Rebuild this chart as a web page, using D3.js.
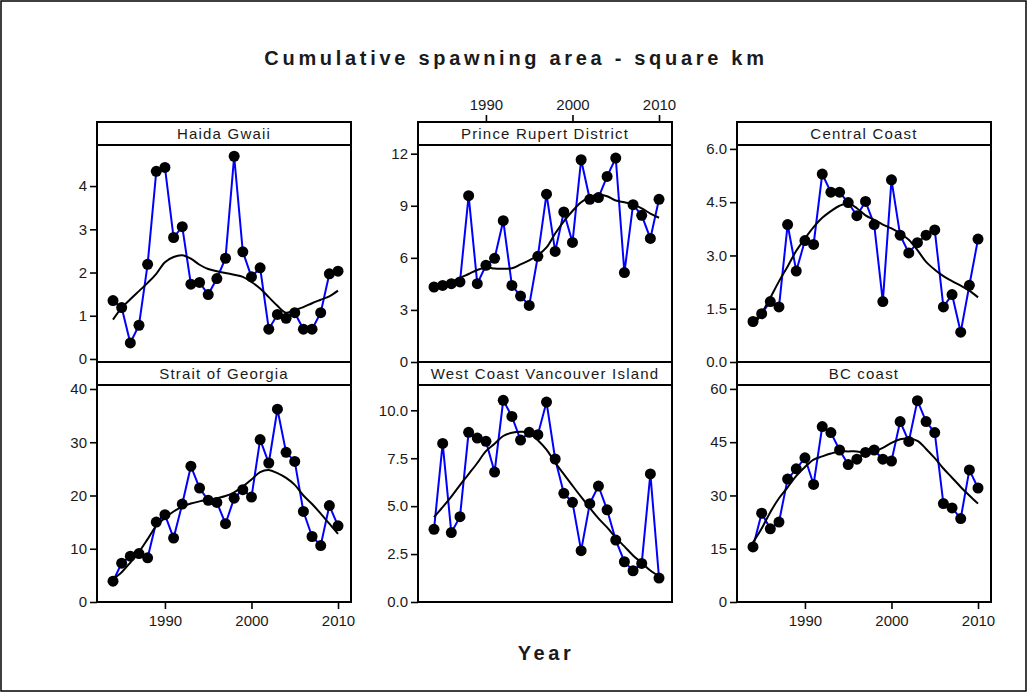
<!DOCTYPE html>
<html>
<head>
<meta charset="utf-8">
<script src="https://cdn.jsdelivr.net/npm/d3@7/dist/d3.min.js"></script>
<style>
  html, body { margin: 0; padding: 0; background: #fff; }
  svg { display: block; }
  text { font-family: "Liberation Sans", Arial, sans-serif; fill: #1a1a1a; }
</style>
</head>
<body>
<svg id="chart" width="1028" height="693"></svg>
<script>
// Survey years
const years = d3.range(1984, 2011);

// Cumulative spawning area (km²) by region, 1984–2010
const haidaGwaii = [1.35, 1.19, 0.37, 0.78, 2.19, 4.34, 4.43, 2.81, 3.06, 1.73, 1.77, 1.49, 1.86, 2.33, 4.69, 2.48, 1.90, 2.11, 0.69, 1.03, 0.94, 1.07, 0.69, 0.69, 1.07, 1.97, 2.03];
const princeRupert = [4.32, 4.41, 4.51, 4.61, 9.58, 4.51, 5.57, 5.97, 8.14, 4.41, 3.80, 3.26, 6.09, 9.67, 6.37, 8.64, 6.89, 11.65, 9.37, 9.47, 10.69, 11.75, 5.15, 9.06, 8.45, 7.12, 9.37];
const centralCoast = [1.14, 1.36, 1.70, 1.55, 3.87, 2.56, 3.42, 3.31, 5.29, 4.78, 4.78, 4.49, 4.12, 4.52, 3.87, 1.70, 5.13, 3.57, 3.07, 3.36, 3.57, 3.72, 1.55, 1.90, 0.84, 2.16, 3.46];
const straitOfGeorgia = [3.9, 7.3, 8.6, 9.1, 8.3, 15.0, 16.4, 12.0, 18.4, 25.5, 21.4, 19.1, 18.7, 14.7, 19.5, 21.1, 19.7, 30.5, 26.1, 36.2, 28.1, 26.4, 17.0, 12.3, 10.6, 18.1, 14.3];
const westCoastVI = [3.79, 8.27, 3.62, 4.45, 8.85, 8.55, 8.38, 6.78, 10.52, 9.68, 8.45, 8.85, 8.73, 10.43, 7.46, 5.67, 5.20, 2.68, 5.13, 6.05, 4.81, 3.23, 2.10, 1.63, 2.01, 6.68, 1.25];
const bcCoast = [15.5, 25.0, 20.6, 22.5, 34.6, 37.5, 40.6, 33.1, 49.4, 47.7, 42.8, 38.7, 40.2, 42.1, 42.8, 40.2, 39.7, 50.8, 45.2, 56.7, 50.8, 47.7, 27.7, 26.5, 23.5, 37.2, 32.1];

// Smoothed trend for each region, 1984–2010
const haidaGwaiiTrend = [0.91, 1.18, 1.38, 1.57, 1.76, 1.97, 2.24, 2.36, 2.40, 2.32, 2.18, 2.08, 2.03, 1.99, 1.95, 1.90, 1.78, 1.63, 1.43, 1.23, 1.07, 1.13, 1.20, 1.29, 1.37, 1.45, 1.58];
const princeRupertTrend = [4.30, 4.45, 4.60, 4.85, 5.07, 5.30, 5.45, 5.38, 5.37, 5.40, 5.62, 5.85, 6.15, 6.60, 7.40, 8.10, 8.70, 9.20, 9.50, 9.65, 9.55, 9.30, 9.20, 9.08, 8.85, 8.55, 8.31];
const centralCoastTrend = [1.00, 1.37, 1.81, 2.27, 2.69, 3.13, 3.48, 3.80, 4.06, 4.25, 4.40, 4.46, 4.33, 4.13, 4.00, 3.87, 3.76, 3.62, 3.44, 3.15, 2.82, 2.60, 2.42, 2.28, 2.15, 2.01, 1.82];
const straitOfGeorgiaTrend = [4.3, 5.6, 7.4, 9.4, 11.8, 14.3, 15.8, 17.0, 17.9, 18.5, 18.9, 19.2, 19.5, 19.9, 20.6, 21.7, 23.0, 24.4, 24.8, 24.2, 23.3, 22.0, 20.0, 18.4, 16.6, 14.7, 12.8];
const westCoastVITrend = [4.43, 4.95, 5.50, 6.10, 6.67, 7.25, 7.87, 8.25, 8.66, 8.83, 8.88, 8.83, 8.44, 7.95, 7.27, 6.67, 6.07, 5.48, 4.91, 4.36, 3.89, 3.36, 2.90, 2.43, 2.04, 1.64, 1.34];
const bcCoastTrend = [16.8, 20.7, 25.3, 29.2, 32.3, 35.5, 38.0, 40.1, 41.0, 41.8, 42.4, 42.4, 42.4, 41.9, 42.4, 43.4, 44.8, 45.8, 46.0, 45.4, 43.1, 40.5, 37.6, 35.0, 32.4, 30.0, 27.7];

// Panel titles and their y-axis ticks
const regionNames = ["Haida Gwaii", "Prince Rupert District", "Central Coast", "Strait of Georgia", "West Coast Vancouver Island", "BC coast"];
const yTickValues = [[0, 1, 2, 3, 4], [0, 3, 6, 9, 12], [0, 1.5, 3, 4.5, 6], [0, 10, 20, 30, 40], [0, 2.5, 5, 7.5, 10], [0, 15, 30, 45, 60]];
const yTickFormats = ["d", "d", ".1f", "d", ".1f", "d"];
const yDomains = [[-0.07, 4.95], [0, 12.5], [0, 6.11], [0, 40.75], [0, 11.32], [0, 61.1]];
const xTickValues = [1990, 2000, 2010];

const chartTitle = "Cumulative spawning area - square km";
const xTitle = "Year";

const seriesValues = [haidaGwaii, princeRupert, centralCoast, straitOfGeorgia, westCoastVI, bcCoast];
const trendValues = [haidaGwaiiTrend, princeRupertTrend, centralCoastTrend, straitOfGeorgiaTrend, westCoastVITrend, bcCoastTrend];

// ---- layout ----
const svg = d3.select("#chart");
const colX = [97, 418, 737];
const panelW = 254;
const stripH = 23;
const plotH = 217;
const rowTop = [122, 362];

// outer frame
svg.append("rect")
  .attr("x", 1).attr("y", 1).attr("width", 1025).attr("height", 690)
  .attr("fill", "none").attr("stroke", "#000").attr("stroke-width", 1.5);

svg.append("text")
  .attr("x", 516).attr("y", 65)
  .attr("text-anchor", "middle")
  .style("font-size", "20px").style("font-weight", "bold")
  .style("letter-spacing", "3.7px")
  .text(chartTitle);

svg.append("text")
  .attr("x", 546).attr("y", 660)
  .attr("text-anchor", "middle")
  .style("font-size", "20px").style("font-weight", "bold")
  .style("letter-spacing", "3.6px")
  .text(xTitle);

const styleAxis = (g) => {
  g.select(".domain").remove();
  g.selectAll(".tick line").attr("stroke", "#000").attr("stroke-width", 1.6);
  g.selectAll(".tick text")
    .style("font-family", "'Liberation Sans', Arial, sans-serif")
    .style("font-size", "15px").attr("fill", "#1a1a1a");
};

regionNames.forEach((name, i) => {
  const col = i % 3, row = Math.floor(i / 3);
  const x0 = colX[col];
  const stripTop = rowTop[row];
  const plotTop = stripTop + stripH;

  const x = d3.scaleLinear().domain([1982.15, 2011.5]).range([0, panelW]);
  const y = d3.scaleLinear().domain(yDomains[i]).range([plotH, 0]);

  const panel = svg.append("g").attr("transform", `translate(${x0},${plotTop})`);

  // y axis
  panel.append("g")
    .call(d3.axisLeft(y).tickValues(yTickValues[i]).tickFormat(d3.format(yTickFormats[i])).tickSize(7).tickPadding(3))
    .call(styleAxis);

  // x axis: bottom for the outer columns of the lower row, top for the middle column of the upper row
  if (row === 1 && col !== 1) {
    panel.append("g")
      .attr("transform", `translate(0,${plotH})`)
      .call(d3.axisBottom(x).tickValues(xTickValues).tickFormat(d3.format("d")).tickSize(7).tickPadding(6))
      .call(styleAxis);
  }
  if (row === 0 && col === 1) {
    panel.append("g")
      .attr("transform", `translate(0,${-stripH})`)
      .call(d3.axisTop(x).tickValues(xTickValues).tickFormat(d3.format("d")).tickSize(7).tickPadding(5))
      .call(styleAxis);
  }

  const pts = years.map((yr, k) => ({ yr, v: seriesValues[i][k], t: trendValues[i][k] }));

  // observed series
  panel.append("path")
    .datum(pts)
    .attr("fill", "none").attr("stroke", "#0000ff").attr("stroke-width", 2)
    .attr("d", d3.line().x(d => x(d.yr)).y(d => y(d.v)));

  // smoothed trend
  panel.append("path")
    .datum(pts)
    .attr("fill", "none").attr("stroke", "#000").attr("stroke-width", 2)
    .attr("d", d3.line().curve(d3.curveCatmullRom).x(d => x(d.yr)).y(d => y(d.t)));

  panel.selectAll("circle")
    .data(pts)
    .join("circle")
    .attr("cx", d => x(d.yr)).attr("cy", d => y(d.v))
    .attr("r", 5.5).attr("fill", "#000");

  // plot frame
  panel.append("rect")
    .attr("x", 0).attr("y", 0).attr("width", panelW).attr("height", plotH)
    .attr("fill", "none").attr("stroke", "#000").attr("stroke-width", 2);

  // strip header
  const strip = svg.append("g").attr("transform", `translate(${x0},${stripTop})`);
  strip.append("rect")
    .attr("width", panelW).attr("height", stripH)
    .attr("fill", "#fff").attr("stroke", "#000").attr("stroke-width", 2);
  strip.append("text")
    .attr("x", panelW / 2).attr("y", 17)
    .attr("text-anchor", "middle")
    .style("font-size", "15px")
    .style("letter-spacing", "1.2px")
    .text(name);
});
</script>
</body>
</html>
